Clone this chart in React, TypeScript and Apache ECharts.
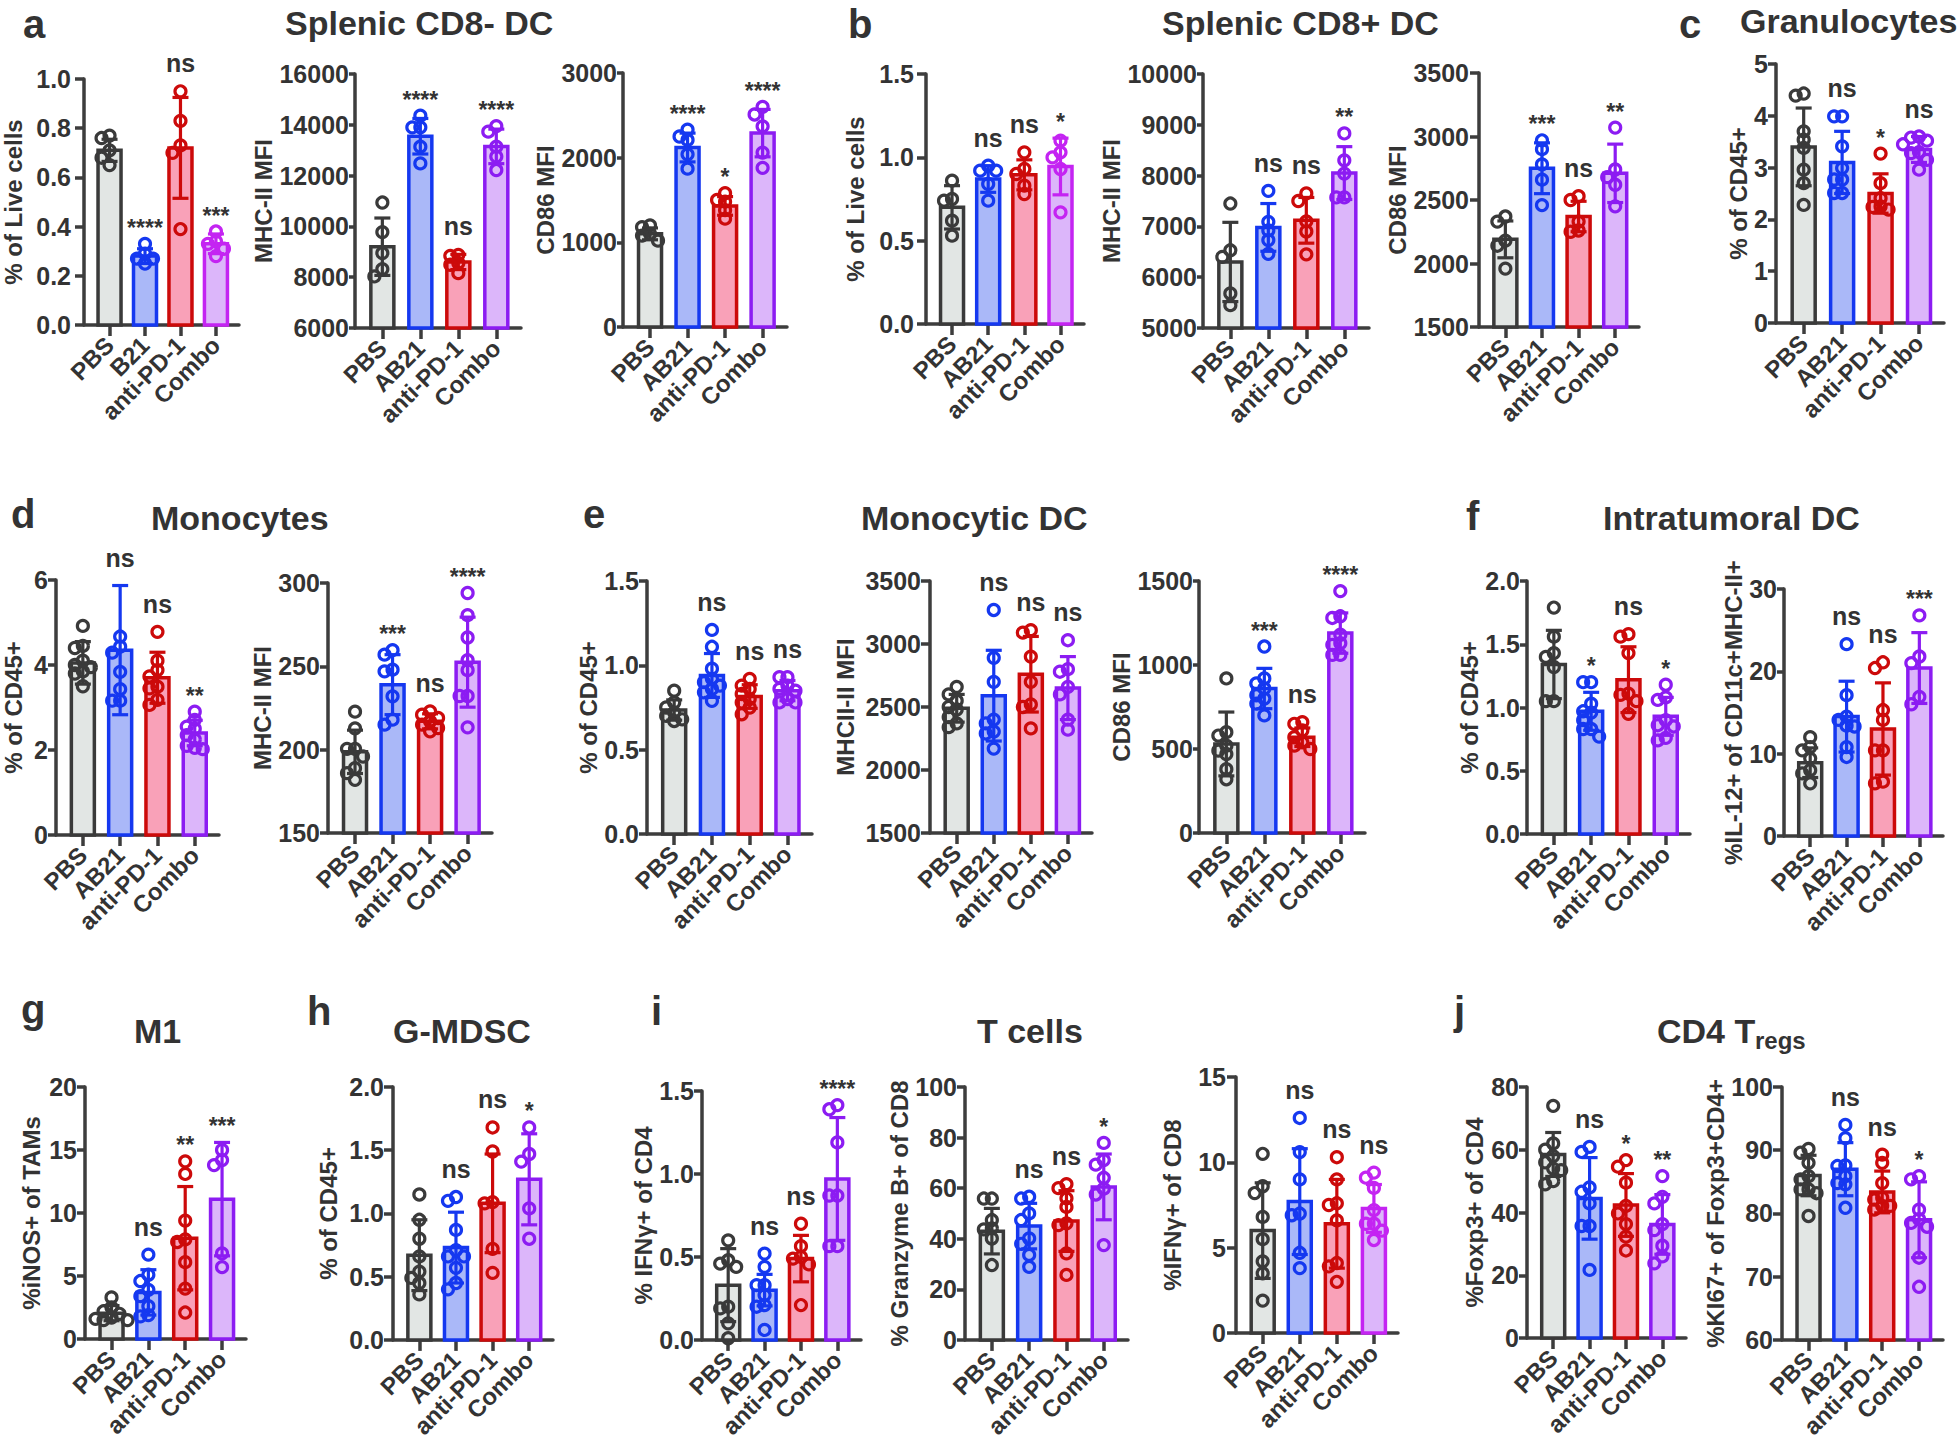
import React, { useEffect, useRef } from 'react';
import * as echarts from 'echarts';

// ---------- categories ----------
const GROUPS = ['PBS', 'AB21', 'anti-PD-1', 'Combo'];
const GROUPS_A = ['PBS', 'B21', 'anti-PD-1', 'Combo'];

// ---------- data (mean, SD, individual points, significance) ----------
const a1Mean = [0.71, 0.28, 0.72, 0.33];
const a1Sd = [0.045, 0.03, 0.205, 0.04];
const a1Pts = [[0.77, 0.76, 0.71, 0.68, 0.65], [0.33, 0.29, 0.27, 0.27, 0.25], [0.95, 0.83, 0.73, 0.7, 0.39], [0.38, 0.34, 0.33, 0.31, 0.28]];
const a1Sig = ['', '****', 'ns', '***'];

const a2Mean = [9200, 13550, 8600, 13150];
const a2Sd = [1130, 700, 300, 680];
const a2Pts = [[10940, 9775, 8950, 8320, 8030], [14360, 13900, 13900, 13140, 12480], [8880, 8840, 8560, 8490, 8160], [13950, 13730, 13140, 12750, 12220]];
const a2Sig = ['', '****', 'ns', '****'];

const a3Mean = [1100, 2120, 1430, 2290];
const a3Sd = [70, 170, 110, 280];
const a3Pts = [[1200, 1180, 1100, 1080, 1020], [2330, 2250, 2210, 2040, 1870], [1580, 1500, 1480, 1380, 1280], [2600, 2510, 2370, 2060, 1880]];
const a3Sig = ['', '****', '*', '****'];

const b1Mean = [0.7, 0.87, 0.895, 0.945];
const b1Sd = [0.13, 0.08, 0.09, 0.17];
const b1Pts = [[0.86, 0.75, 0.74, 0.62, 0.53], [0.95, 0.92, 0.92, 0.84, 0.74], [1.03, 0.93, 0.9, 0.83, 0.78], [1.1, 1.03, 1.0, 0.93, 0.67]];
const b1Sig = ['', 'ns', 'ns', '*'];

const b2Mean = [6300, 6980, 7120, 8050];
const b2Sd = [780, 470, 450, 520];
const b2Pts = [[7450, 6530, 6400, 5680, 5450], [7700, 7090, 6920, 6730, 6460], [7650, 7500, 7100, 6900, 6450], [8830, 8300, 8040, 7570, 7570]];
const b2Sig = ['', 'ns', 'ns', '**'];

const b3Mean = [2190, 2750, 2370, 2710];
const b3Sd = [145, 200, 120, 230];
const b3Pts = [[2370, 2330, 2180, 2140, 1960], [2970, 2900, 2780, 2660, 2460], [2530, 2500, 2330, 2260, 2250], [3070, 2740, 2680, 2620, 2450]];
const b3Sig = ['', '***', 'ns', '**'];

const c1Mean = [3.4, 3.1, 2.5, 3.35];
const c1Sd = [0.75, 0.6, 0.38, 0.25];
const c1Pts = [[4.39, 4.43, 3.7, 3.54, 3.38, 2.96, 2.7, 2.28], [3.99, 3.99, 3.41, 2.99, 2.77, 2.77, 2.51, 2.51], [3.27, 2.7, 2.41, 2.25, 2.24, 2.19], [3.6, 3.58, 3.52, 3.45, 3.3, 3.28, 3.15, 2.96]];
const c1Sig = ['', 'ns', '*', 'ns'];

const d1Mean = [4.05, 4.35, 3.7, 2.4];
const d1Sd = [0.5, 1.52, 0.6, 0.3];
const d1Pts = [[4.92, 4.45, 4.4, 4.1, 4.0, 3.95, 3.85, 3.8, 3.5], [4.67, 4.43, 4.29, 3.84, 3.43, 3.16, 3.16], [4.78, 4.1, 3.88, 3.73, 3.49, 3.45, 3.18, 3.06], [2.9, 2.71, 2.55, 2.5, 2.35, 2.25, 2.1, 2.05, 2.02]];
const d1Sig = ['', 'ns', 'ns', '**'];

const d2Mean = [198.7, 239, 217, 252.5];
const d2Sd = [13, 18, 4.5, 27];
const d2Pts = [[222.8, 212.8, 200.5, 200.5, 195.9, 188.9, 185.9, 181.9], [259.7, 257, 248, 247, 232, 218, 215], [223, 221, 219, 217, 215, 213, 211], [294, 280.7, 267.3, 253.7, 247.7, 232.2, 232.2, 213.4]];
const d2Sig = ['', '***', 'ns', '****'];

const e1Mean = [0.735, 0.94, 0.815, 0.85];
const e1Sd = [0.06, 0.13, 0.07, 0.06];
const e1Pts = [[0.85, 0.78, 0.75, 0.72, 0.7, 0.68, 0.67], [1.21, 1.11, 0.98, 0.92, 0.9, 0.88, 0.86, 0.84, 0.79], [0.92, 0.88, 0.86, 0.83, 0.8, 0.78, 0.75, 0.71], [0.93, 0.93, 0.88, 0.86, 0.85, 0.8, 0.78, 0.78]];
const e1Sig = ['', 'ns', 'ns', 'ns'];

const e2Mean = [2490, 2590, 2760, 2650];
const e2Sd = [110, 360, 300, 250];
const e2Pts = [[2660, 2600, 2550, 2500, 2480, 2420, 2370, 2340], [3270, 2890, 2700, 2400, 2370, 2305, 2290, 2170], [3090, 3110, 2900, 2700, 2520, 2500, 2330], [3030, 2800, 2780, 2660, 2600, 2400, 2320]];
const e2Sig = ['', 'ns', 'ns', 'ns'];

const e3Mean = [530, 860, 570, 1190];
const e3Sd = [190, 120, 55, 120];
const e3Pts = [[920, 600, 580, 520, 490, 470, 380, 320], [1110, 920, 890, 860, 820, 800, 770, 700], [650, 660, 610, 570, 540, 520, 500], [1440, 1290, 1280, 1180, 1130, 1120, 1060, 1060]];
const e3Sig = ['', '***', 'ns', '****'];

const f1Mean = [1.34, 0.97, 1.22, 0.93];
const f1Sd = [0.27, 0.15, 0.26, 0.15];
const f1Pts = [[1.79, 1.56, 1.43, 1.4, 1.32, 1.05, 1.05], [1.2, 1.2, 1.03, 0.97, 0.96, 0.9, 0.83, 0.83, 0.77], [1.56, 1.58, 1.43, 1.11, 1.1, 1.05, 0.95], [1.18, 1.08, 1.06, 0.9, 0.86, 0.85, 0.76, 0.74]];
const f1Sig = ['', '*', 'ns', '*'];

const f2Mean = [8.9, 14.5, 13.0, 20.4];
const f2Sd = [1.8, 4.3, 5.6, 4.3];
const f2Pts = [[12.0, 10.8, 10.4, 9.4, 8.0, 7.6, 6.4], [23.3, 17.1, 14.5, 14.1, 13.4, 13.3, 10.8, 9.6], [20.4, 21.1, 15.3, 14.1, 10.4, 10.4, 6.4, 6.6], [26.8, 21.8, 21.0, 16.0, 16.9]];
const f2Sig = ['', 'ns', 'ns', '***'];

const g1Mean = [2.05, 3.7, 8.0, 11.1];
const g1Sd = [0.6, 1.8, 4.1, 4.5];
const g1Pts = [[3.3, 2.5, 2.2, 2.0, 1.7, 1.6, 1.5, 1.5], [6.7, 5.1, 4.6, 3.9, 3.4, 2.6, 1.9, 1.8], [14.1, 13.1, 9.4, 7.9, 7.7, 6.1, 4.0, 2.1], [15.0, 14.2, 13.8, 6.8, 5.7]];
const g1Sig = ['', 'ns', '**', '***'];

const h1Mean = [0.67, 0.73, 1.08, 1.27];
const h1Sd = [0.28, 0.28, 0.39, 0.36];
const h1Pts = [[1.15, 0.95, 0.8, 0.66, 0.54, 0.49, 0.45, 0.36], [1.1, 1.13, 0.87, 0.71, 0.66, 0.66, 0.57, 0.45, 0.4], [1.68, 1.49, 1.08, 1.09, 0.72, 0.53], [1.68, 1.47, 1.41, 1.04, 0.8]];
const h1Sig = ['', 'ns', 'ns', '*'];

const i1Mean = [0.33, 0.3, 0.49, 0.97];
const i1Sd = [0.22, 0.095, 0.14, 0.37];
const i1Pts = [[0.6, 0.48, 0.46, 0.44, 0.2, 0.19, 0.1, 0.01], [0.52, 0.44, 0.33, 0.33, 0.27, 0.21, 0.2, 0.06], [0.7, 0.565, 0.5, 0.49, 0.455, 0.21], [1.415, 1.39, 1.19, 0.87, 0.87, 0.565, 0.565]];
const i1Sig = ['', 'ns', 'ns', '****'];

const i2Mean = [43, 45, 47, 60.5];
const i2Sd = [9, 9, 12, 13];
const i2Pts = [[55.9, 55.9, 47.4, 44.1, 43.7, 40.1, 29.6], [56.6, 55.9, 50, 47.4, 40.1, 38, 33.6, 28.9], [60, 61.6, 56, 52.6, 46.1, 45.4, 34.2, 25.7], [77.9, 71.1, 69.3, 64.1, 57.5, 59.8, 37.5]];
const i2Sig = ['', 'ns', 'ns', '*'];

const i3Mean = [6.0, 7.7, 6.4, 7.3];
const i3Sd = [2.8, 3.1, 2.6, 1.4];
const i3Pts = [[10.5, 8.6, 8.2, 6.8, 5.5, 4.2, 3.5, 1.9], [12.6, 10.6, 9.0, 7.0, 6.9, 4.7, 3.8], [10.3, 9.0, 7.6, 7.5, 6.6, 4.1, 3.9, 3.0], [9.4, 9.1, 8.5, 7.2, 6.4, 6.4, 6.0, 5.45]];
const i3Sig = ['', 'ns', 'ns', 'ns'];

const j1Mean = [58.5, 44.5, 42.4, 36.2];
const j1Sd = [7, 13, 10, 9.5];
const j1Pts = [[74, 62, 60, 58, 56, 54, 53.5, 50, 49], [59.3, 60.9, 48, 46.6, 42.9, 35.7, 35.7, 21.7], [54.6, 56.7, 49.5, 42.1, 39.7, 36.3, 32.3, 27.9], [51.6, 45, 42.9, 36.3, 34.4, 29.4, 23.8, 26]];
const j1Sig = ['', 'ns', '*', '**'];

const j2Mean = [86.0, 87.0, 83.4, 79.0];
const j2Sd = [3.2, 4.2, 3.3, 6.0];
const j2Pts = [[90.2, 89.6, 88, 85.9, 85.4, 83.8, 83.8, 83.2, 79.6], [94, 91.9, 87.5, 87.6, 85.9, 84.8, 84.6, 80.9], [89.3, 88, 84.8, 82.2, 82.5, 81.2, 80.6, 81.2], [85.4, 85.9, 80.6, 79.1, 78.5, 77.9, 73, 68.4]];
const j2Sig = ['', 'ns', 'ns', '*'];

// ---------- panels: axis definitions + data references ----------
const PANELS = [
  { id: 'a1', cats: GROUPS_A, yName: '% of Live cells', min: 0, max: 1, step: 0.2, dec: 1, mean: a1Mean, sd: a1Sd, pts: a1Pts, sig: a1Sig },
  { id: 'a2', cats: GROUPS, yName: 'MHC-II MFI', min: 6000, max: 16000, step: 2000, dec: 0, mean: a2Mean, sd: a2Sd, pts: a2Pts, sig: a2Sig },
  { id: 'a3', cats: GROUPS, yName: 'CD86 MFI', min: 0, max: 3000, step: 1000, dec: 0, mean: a3Mean, sd: a3Sd, pts: a3Pts, sig: a3Sig },
  { id: 'b1', cats: GROUPS, yName: '% of Live cells', min: 0, max: 1.5, step: 0.5, dec: 1, mean: b1Mean, sd: b1Sd, pts: b1Pts, sig: b1Sig },
  { id: 'b2', cats: GROUPS, yName: 'MHC-II MFI', min: 5000, max: 10000, step: 1000, dec: 0, mean: b2Mean, sd: b2Sd, pts: b2Pts, sig: b2Sig },
  { id: 'b3', cats: GROUPS, yName: 'CD86 MFI', min: 1500, max: 3500, step: 500, dec: 0, mean: b3Mean, sd: b3Sd, pts: b3Pts, sig: b3Sig },
  { id: 'c1', cats: GROUPS, yName: '% of CD45+', min: 0, max: 5, step: 1, dec: 0, mean: c1Mean, sd: c1Sd, pts: c1Pts, sig: c1Sig },
  { id: 'd1', cats: GROUPS, yName: '% of CD45+', min: 0, max: 6, step: 2, dec: 0, mean: d1Mean, sd: d1Sd, pts: d1Pts, sig: d1Sig },
  { id: 'd2', cats: GROUPS, yName: 'MHC-II MFI', min: 150, max: 300, step: 50, dec: 0, mean: d2Mean, sd: d2Sd, pts: d2Pts, sig: d2Sig },
  { id: 'e1', cats: GROUPS, yName: '% of CD45+', min: 0, max: 1.5, step: 0.5, dec: 1, mean: e1Mean, sd: e1Sd, pts: e1Pts, sig: e1Sig },
  { id: 'e2', cats: GROUPS, yName: 'MHCII-II MFI', min: 1500, max: 3500, step: 500, dec: 0, mean: e2Mean, sd: e2Sd, pts: e2Pts, sig: e2Sig },
  { id: 'e3', cats: GROUPS, yName: 'CD86 MFI', min: 0, max: 1500, step: 500, dec: 0, mean: e3Mean, sd: e3Sd, pts: e3Pts, sig: e3Sig },
  { id: 'f1', cats: GROUPS, yName: '% of CD45+', min: 0, max: 2, step: 0.5, dec: 1, mean: f1Mean, sd: f1Sd, pts: f1Pts, sig: f1Sig },
  { id: 'f2', cats: GROUPS, yName: '%IL-12+ of CD11c+MHC-II+', min: 0, max: 30, step: 10, dec: 0, mean: f2Mean, sd: f2Sd, pts: f2Pts, sig: f2Sig },
  { id: 'g1', cats: GROUPS, yName: '%iNOS+ of TAMs', min: 0, max: 20, step: 5, dec: 0, mean: g1Mean, sd: g1Sd, pts: g1Pts, sig: g1Sig },
  { id: 'h1', cats: GROUPS, yName: '% of CD45+', min: 0, max: 2, step: 0.5, dec: 1, mean: h1Mean, sd: h1Sd, pts: h1Pts, sig: h1Sig },
  { id: 'i1', cats: GROUPS, yName: '% IFN\u03b3+ of CD4', min: 0, max: 1.5, step: 0.5, dec: 1, mean: i1Mean, sd: i1Sd, pts: i1Pts, sig: i1Sig },
  { id: 'i2', cats: GROUPS, yName: '% Granzyme B+ of CD8', min: 0, max: 100, step: 20, dec: 0, mean: i2Mean, sd: i2Sd, pts: i2Pts, sig: i2Sig },
  { id: 'i3', cats: GROUPS, yName: '%IFN\u03b3+ of CD8', min: 0, max: 15, step: 5, dec: 0, mean: i3Mean, sd: i3Sd, pts: i3Pts, sig: i3Sig },
  { id: 'j1', cats: GROUPS, yName: '%Foxp3+ of CD4', min: 0, max: 80, step: 20, dec: 0, mean: j1Mean, sd: j1Sd, pts: j1Pts, sig: j1Sig },
  { id: 'j2', cats: GROUPS, yName: '%KI67+ of Foxp3+CD4+', min: 60, max: 100, step: 10, dec: 0, mean: j2Mean, sd: j2Sd, pts: j2Pts, sig: j2Sig },
];

// ---------- layout: [axisLeft, axisRight, axisTop, axisBottom, nameGap, labelMargin] ----------
const LAYOUT: Record<string, number[]> = {
  a1: [82, 239, 79, 325, 59, 13],
  a2: [355, 521, 74, 328, 72, 6],
  a3: [623, 787, 73, 327, 60, 6],
  b1: [926, 1084, 74, 324, 59, 12],
  b2: [1203, 1369, 74, 328, 73, 6],
  b3: [1479, 1639, 73, 327, 66, 10],
  c1: [1776, 1944, 64, 323, 25, 8],
  d1: [54, 219, 580, 835, 31, 8],
  d2: [328, 492, 583, 833, 52, 8],
  e1: [647, 812, 581, 834, 42, 8],
  e2: [930, 1092, 581, 833, 73, 9],
  e3: [1199, 1365, 581, 833, 61, 6],
  f1: [1527, 1690, 581, 834, 43, 7],
  f2: [1784, 1943, 589, 836, 37, 7],
  g1: [85, 246, 1087, 1339, 42, 8],
  h1: [393, 553, 1087, 1340, 53, 9],
  i1: [702, 861, 1091, 1341, 44, 8],
  i2: [965, 1128, 1087, 1340, 48, 8],
  i3: [1236, 1398, 1077, 1333, 52, 10],
  j1: [1527, 1686, 1087, 1338, 41, 8],
  j2: [1782, 1943, 1087, 1341, 50, 9],
};

// titles: [text, x, baseline, fontSize]
const TITLES: [string, number, number, number][] = [
  ['a', 23, 38, 40], ['Splenic CD8- DC', 285, 35, 34],
  ['b', 848, 38, 40], ['Splenic CD8+ DC', 1162, 35, 34],
  ['c', 1679, 38, 40], ['Granulocytes', 1740, 33, 34],
  ['d', 11, 528, 40], ['Monocytes', 151, 530, 34],
  ['e', 583, 528, 40], ['Monocytic DC', 861, 530, 34],
  ['f', 1466, 530, 40], ['Intratumoral DC', 1603, 530, 34],
  ['g', 21, 1023, 40], ['M1', 134, 1043, 34],
  ['h', 307, 1025, 40], ['G-MDSC', 393, 1043, 34],
  ['i', 651, 1025, 40], ['T cells', 977, 1043, 34],
  ['j', 1454, 1025, 40], ['CD4 T', 1657, 1043, 34], ['regs', 1755, 1049, 24],
];

// ---------- styles ----------
const FONT = 'Liberation Sans';
const INK = '#333333';
const AXIS = '#3d3d3d';
const STROKE = ['#3a3a3a', '#1538f0', '#cc0a0a', '#8c1cf2'];
const MAGENTA = '#c424f2';
const FILL = ['#e2e6e4', '#aab8f8', '#f9a1b8', '#dcb6fa'];
const MAGENTA_PANELS = ['a1', 'b1', 'i3'];
const X_MIN = -0.72;
const X_MAX = 3.65;

function swarm(ys: number[]): number[] {
  const order = ys.map((y, i) => i).sort((a, b) => ys[a] - ys[b]);
  const offs = new Array(ys.length).fill(0);
  const placed: number[] = [];
  const S = 8, D = 8;
  const cands = [0, -S, S, -2 * S, 2 * S];
  for (const idx of order) {
    let best = 0, bestScore = -1;
    for (const c of cands) {
      let md = Infinity;
      for (const q of placed) {
        const d = Math.hypot(offs[q] - c, ys[q] - ys[idx]);
        if (d < md) md = d;
      }
      if (md >= D) { best = c; bestScore = Infinity; break; }
      if (md > bestScore) { bestScore = md; best = c; }
    }
    offs[idx] = best;
    placed.push(idx);
  }
  return offs;
}

function buildOption() {
  const grid: any[] = [];
  const xAxis: any[] = [];
  const yAxis: any[] = [];
  const series: any[] = [];

  PANELS.forEach((p, k) => {
    const [L, R, T, B, gap, lm] = LAYOUT[p.id];
    const strokeOf = (i: number) => (i === 3 && MAGENTA_PANELS.includes(p.id) ? MAGENTA : STROKE[i]);
    grid.push({ left: L, top: T, width: R - L, height: B - T, containLabel: false });
    xAxis.push({
      gridIndex: k, type: 'value', min: X_MIN, max: X_MAX,
      axisLine: { show: true, onZero: false, lineStyle: { color: AXIS, width: 3.5 } },
      splitLine: { show: false },
      axisTick: { show: true, customValues: [0, 1, 2, 3], length: 11, lineStyle: { color: AXIS, width: 3.5 } },
      axisLabel: {
        show: true, customValues: [0, 1, 2, 3], rotate: 45, margin: 16,
        formatter: (v: number) => p.cats[Math.round(v)] ?? '',
        fontSize: 24, fontWeight: 'bold', fontFamily: FONT, color: INK,
      },
    });
    yAxis.push({
      gridIndex: k, type: 'value', min: p.min, max: p.max, interval: p.step,
      name: p.yName, nameLocation: 'middle', nameGap: gap, nameRotate: 90,
      nameTextStyle: { fontSize: 24, fontWeight: 'bold', fontFamily: FONT, color: INK },
      axisLine: { show: true, onZero: false, lineStyle: { color: AXIS, width: 3.5 } },
      splitLine: { show: false },
      axisTick: { show: true, length: Math.min(9, lm), lineStyle: { color: AXIS, width: 3.5 } },
      axisLabel: {
        margin: lm, fontSize: 25, fontWeight: 'bold', fontFamily: FONT, color: INK,
        formatter: (v: number) => v.toFixed(p.dec),
      },
    });

    // bars
    series.push({
      type: 'custom', xAxisIndex: k, yAxisIndex: k, silent: true, z: 2,
      data: p.mean.map((m, i) => [i, m]),
      renderItem: (params: any, api: any) => {
        const i = api.value(0);
        const top = api.coord([i, api.value(1)]);
        const bot = api.coord([i, p.min]);
        const w = 23;
        return {
          type: 'rect',
          shape: { x: top[0] - w / 2, y: top[1], width: w, height: bot[1] - top[1] },
          style: { fill: FILL[i], stroke: strokeOf(i), lineWidth: 3.5 },
        };
      },
    });
    // error bars
    series.push({
      type: 'custom', xAxisIndex: k, yAxisIndex: k, silent: true, z: 3,
      data: p.mean.map((m, i) => [i, m, p.sd[i]]),
      renderItem: (params: any, api: any) => {
        const i = api.value(0), m = api.value(1), s = api.value(2);
        const loV = Math.max(m - s, p.min);
        const a = api.coord([i, m + s]);
        const b = api.coord([i, loV]);
        const st = { stroke: strokeOf(i), lineWidth: 3.2 };
        const ch: any[] = [
          { type: 'line', shape: { x1: a[0], y1: a[1], x2: b[0], y2: b[1] }, style: st },
          { type: 'line', shape: { x1: a[0] - 8, y1: a[1], x2: a[0] + 8, y2: a[1] }, style: st },
        ];
        if (m - s > p.min) ch.push({ type: 'line', shape: { x1: b[0] - 8, y1: b[1], x2: b[0] + 8, y2: b[1] }, style: st });
        return { type: 'group', children: ch };
      },
    });
    // points
    const ptData: number[][] = [];
    p.pts.forEach((arr, g) => arr.forEach((v, j) => ptData.push([g, v, j])));
    series.push({
      type: 'custom', xAxisIndex: k, yAxisIndex: k, silent: true, z: 4,
      data: ptData,
      renderItem: (params: any, api: any) => {
        const g = api.value(0), j = api.value(2);
        const vals = p.pts[g];
        const ys = vals.map((v) => api.coord([g, v])[1]);
        const offs = swarm(ys);
        const c = api.coord([g, vals[j]]);
        return {
          type: 'circle',
          shape: { cx: c[0] + offs[j], cy: c[1], r: 5.5 },
          style: { fill: 'none', stroke: strokeOf(g), lineWidth: 3.2 },
        };
      },
    });
    // significance labels
    const sigData: any[] = [];
    p.sig.forEach((s, i) => {
      if (!s) return;
      const top = Math.max(p.mean[i] + p.sd[i], ...p.pts[i]);
      sigData.push([i, top, s === 'ns' ? 1 : 0]);
    });
    series.push({
      type: 'custom', xAxisIndex: k, yAxisIndex: k, silent: true, z: 5,
      data: sigData,
      renderItem: (params: any, api: any) => {
        const i = api.value(0);
        const isNs = api.value(2) === 1;
        const c = api.coord([i, api.value(1)]);
        const label = p.sig[i];
        return {
          type: 'text',
          x: c[0], y: c[1] - (isNs ? 28 : 16),
          style: {
            text: label, fill: INK, fontFamily: FONT, fontWeight: 'bold',
            fontSize: isNs ? 25 : 23, align: 'center', verticalAlign: 'middle',
            textAlign: 'center', textVerticalAlign: 'middle',
          },
        };
      },
    });
  });

  const graphic = TITLES.map(([text, x, base, size]) => ({
    type: 'text', x, y: base - size * 0.35, silent: true,
    style: {
      text, fill: INK, fontFamily: FONT, fontWeight: 'bold', fontSize: size,
      align: 'left', verticalAlign: 'middle', textAlign: 'left', textVerticalAlign: 'middle',
    },
  }));

  return {
    animation: false,
    backgroundColor: '#ffffff',
    textStyle: { fontFamily: FONT },
    grid, xAxis, yAxis, series, graphic,
  };
}

export default function App() {
  const ref = useRef<HTMLDivElement>(null);
  useEffect(() => {
    if (!ref.current) return;
    const chart = echarts.init(ref.current, null, { renderer: 'svg' });
    chart.setOption(buildOption() as any);
    return () => chart.dispose();
  }, []);
  return (
    <div
      ref={ref}
      style={{ position: 'absolute', left: 0, top: 0, width: 1960, height: 1441, background: '#fff' }}
    />
  );
}
